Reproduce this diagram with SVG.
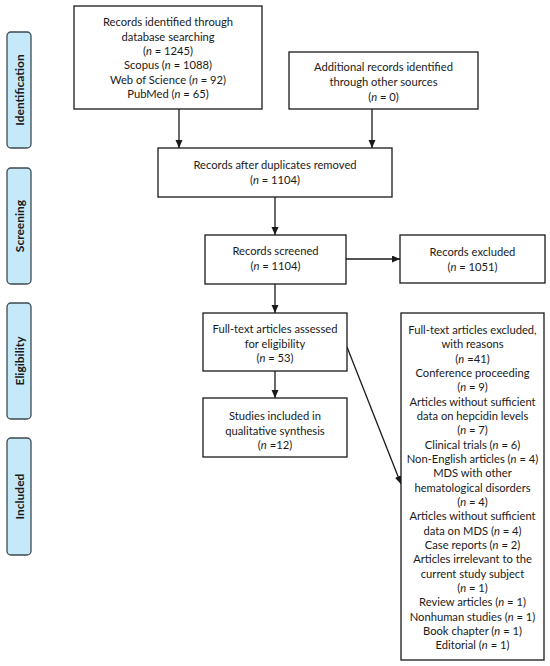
<svg xmlns="http://www.w3.org/2000/svg" width="550" height="666" viewBox="0 0 550 666">
<style>
.box{fill:#fff;stroke:#1a1a1a;stroke-width:1.3}
.side{fill:#c6e9fa;stroke:#3c4a52;stroke-width:1.3}
.t{font-family:Lato,"Open Sans",sans-serif;font-size:11.2px;fill:#1a1a1a;text-anchor:middle}
.s{font-family:Lato,"Open Sans",sans-serif;font-size:12px;font-weight:bold;fill:#1a1a1a;text-anchor:middle}
.c{stroke:#1a1a1a;stroke-width:1.3;fill:none;marker-end:url(#ah)}
</style>
<defs>
<marker id="ah" markerUnits="userSpaceOnUse" markerWidth="9" markerHeight="8" refX="8" refY="3.5" orient="auto">
<path d="M0,0 L8,3.5 L0,7 z" fill="#1a1a1a"/>
</marker>
</defs>
<rect width="550" height="666" fill="#fff"/>
<g id="phase-identification"><rect class="side" x="7" y="32" width="24" height="116" rx="4"/><text class="s" transform="translate(23.5,90) rotate(-90)">Identification</text></g>
<g id="phase-screening"><rect class="side" x="7" y="168" width="24" height="116" rx="4"/><text class="s" transform="translate(23.5,226) rotate(-90)">Screening</text></g>
<g id="phase-eligibility"><rect class="side" x="7" y="303" width="24" height="116" rx="4"/><text class="s" transform="translate(23.5,361) rotate(-90)">Eligibility</text></g>
<g id="phase-included"><rect class="side" x="7" y="438" width="24" height="117" rx="4"/><text class="s" transform="translate(23.5,496.5) rotate(-90)">Included</text></g>

<g id="connectors">
<line class="c" x1="179" y1="109" x2="179" y2="148"/>
<line class="c" x1="372" y1="109" x2="372" y2="148"/>
<line class="c" x1="275" y1="197" x2="275" y2="235"/>
<line class="c" x1="346" y1="259" x2="400" y2="259"/>
<line class="c" x1="275" y1="284" x2="275" y2="313"/>
<line class="c" x1="275" y1="371" x2="275" y2="398"/>
<line class="c" x1="347" y1="347" x2="401" y2="484"/>
</g>

<g id="db-search"><rect class="box" x="74" y="6" width="188" height="103"/>
<text class="t" x="168" y="26">Records identified through</text>
<text class="t" x="168" y="40.5">database searching</text>
<text class="t" x="168" y="55">(<tspan font-style="italic">n</tspan> = 1245)</text>
<text class="t" x="168" y="69">Scopus (<tspan font-style="italic">n</tspan> = 1088)</text>
<text class="t" x="168" y="84">Web of Science (<tspan font-style="italic">n</tspan> = 92)</text>
<text class="t" x="168" y="98">PubMed (<tspan font-style="italic">n</tspan> = 65)</text>
</g>
<g id="other-sources"><rect class="box" x="289" y="52" width="189" height="57"/>
<text class="t" x="383.5" y="71">Additional records identified</text>
<text class="t" x="383.5" y="86">through other sources</text>
<text class="t" x="383.5" y="100.5">(<tspan font-style="italic">n</tspan> = 0)</text>
</g>
<g id="deduplicated"><rect class="box" x="158" y="148" width="234" height="49"/>
<text class="t" x="275" y="168.5">Records after duplicates removed</text>
<text class="t" x="275" y="183.5">(<tspan font-style="italic">n</tspan> = 1104)</text>
</g>
<g id="screened"><rect class="box" x="205" y="235" width="141" height="49"/>
<text class="t" x="275.5" y="255">Records screened</text>
<text class="t" x="275.5" y="270">(<tspan font-style="italic">n</tspan> = 1104)</text>
</g>
<g id="excluded"><rect class="box" x="400" y="235" width="145" height="48"/>
<text class="t" x="472.5" y="256">Records excluded</text>
<text class="t" x="472.5" y="271">(<tspan font-style="italic">n</tspan> = 1051)</text>
</g>
<g id="fulltext"><rect class="box" x="203" y="313" width="144" height="58"/>
<text class="t" x="275" y="332.5">Full-text articles assessed</text>
<text class="t" x="275" y="347.5">for eligibility</text>
<text class="t" x="275" y="362">(<tspan font-style="italic">n</tspan> = 53)</text>
</g>
<g id="included"><rect class="box" x="203" y="398" width="144" height="59"/>
<text class="t" x="275" y="420">Studies included in</text>
<text class="t" x="275" y="434.5">qualitative synthesis</text>
<text class="t" x="275" y="449">(<tspan font-style="italic">n</tspan> =12)</text>
</g>
<g id="fulltext-excluded"><rect class="box" x="401" y="313" width="143" height="347"/>
<text class="t" x="472.5" y="334">Full-text articles excluded,</text>
<text class="t" x="472.5" y="348.3">with reasons</text>
<text class="t" x="472.5" y="362.7">(<tspan font-style="italic">n</tspan> =41)</text>
<text class="t" x="472.5" y="377">Conference proceeding</text>
<text class="t" x="472.5" y="391.3">(<tspan font-style="italic">n</tspan> = 9)</text>
<text class="t" x="472.5" y="405.7">Articles without sufficient</text>
<text class="t" x="472.5" y="420">data on hepcidin levels</text>
<text class="t" x="472.5" y="434.3">(<tspan font-style="italic">n</tspan> = 7)</text>
<text class="t" x="472.5" y="448.7">Clinical trials (<tspan font-style="italic">n</tspan> = 6)</text>
<text class="t" x="472.5" y="463">Non-English articles (<tspan font-style="italic">n</tspan> = 4)</text>
<text class="t" x="472.5" y="477.3">MDS with other</text>
<text class="t" x="472.5" y="491.7">hematological disorders</text>
<text class="t" x="472.5" y="506">(<tspan font-style="italic">n</tspan> = 4)</text>
<text class="t" x="472.5" y="520.3">Articles without sufficient</text>
<text class="t" x="472.5" y="534.7">data on MDS (<tspan font-style="italic">n</tspan> = 4)</text>
<text class="t" x="472.5" y="549">Case reports (<tspan font-style="italic">n</tspan> = 2)</text>
<text class="t" x="472.5" y="563.3">Articles irrelevant to the</text>
<text class="t" x="472.5" y="577.7">current study subject</text>
<text class="t" x="472.5" y="592">(<tspan font-style="italic">n</tspan> = 1)</text>
<text class="t" x="472.5" y="606.3">Review articles (<tspan font-style="italic">n</tspan> = 1)</text>
<text class="t" x="472.5" y="620.7">Nonhuman studies (<tspan font-style="italic">n</tspan> = 1)</text>
<text class="t" x="472.5" y="635">Book chapter (<tspan font-style="italic">n</tspan> = 1)</text>
<text class="t" x="472.5" y="649.3">Editorial (<tspan font-style="italic">n</tspan> = 1)</text>
</g>
</svg>
